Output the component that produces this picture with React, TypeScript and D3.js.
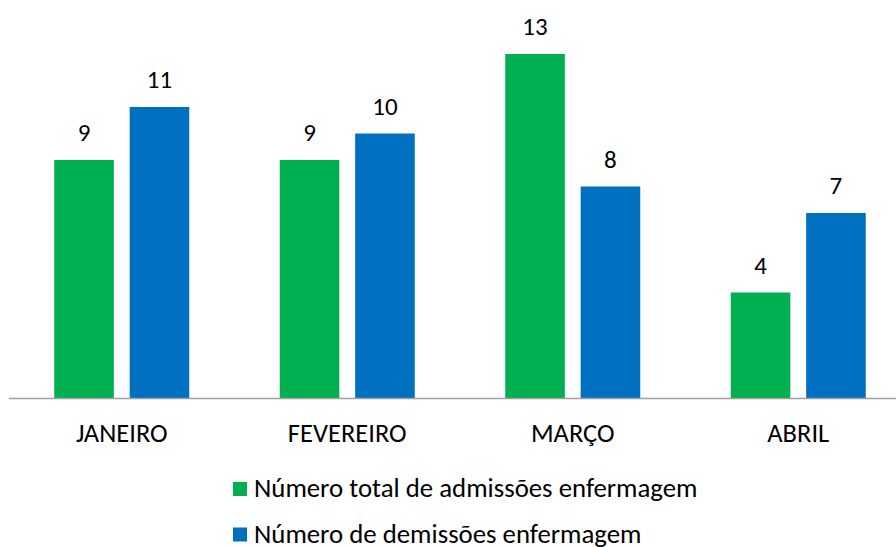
// @ts-nocheck
import * as d3 from "d3";
import React, { useRef, useEffect } from "react";

const months = ["JANEIRO", "FEVEREIRO", "MARÇO", "ABRIL"];
const admissoes = [9, 9, 13, 4];
const demissoes = [11, 10, 8, 7];
const seriesNames = ["Número total de admissões enfermagem", "Número de demissões enfermagem"];
const colors = ["#00B050", "#0070C0"];

export default function App() {
  const svgRef = useRef<SVGSVGElement | null>(null);

  useEffect(() => {
    const width = 896;
    const height = 547;
    const font = "Carlito, Calibri, Lato, sans-serif";

    const svg = d3.select(svgRef.current).attr("width", width).attr("height", height);
    svg.selectAll("*").remove();

    const x = d3.scaleBand().domain(months).range([9, 9 + 4 * 225.5]);
    const sub = d3.scaleBand().domain(["a", "d"]).range([-67.5, 67.5]).paddingInner(0.21).paddingOuter(0);
    const y = d3.scaleLinear().domain([0, 13]).range([398.5, 54]);

    const rows = months.map((m, i) => ({ m, vals: [admissoes[i], demissoes[i]] }));

    const g = svg.append("g");
    rows.forEach(r => {
      const cx = x(r.m)! + x.bandwidth() / 2;
      ["a", "d"].forEach((k, j) => {
        const v = r.vals[j];
        const bx = cx + sub(k)!;
        g.append("rect")
          .attr("x", bx)
          .attr("y", y(v))
          .attr("width", sub.bandwidth())
          .attr("height", y(0) - y(v))
          .attr("fill", colors[j]);
        g.append("text")
          .attr("x", bx + sub.bandwidth() / 2)
          .attr("y", y(v) - 19)
          .attr("text-anchor", "middle")
          .attr("font-family", font)
          .attr("font-size", 25)
          .attr("fill", "#000")
          .text(v);
      });
    });

    // category axis
    svg.append("line")
      .attr("x1", 9).attr("x2", width)
      .attr("y1", y(0)).attr("y2", y(0))
      .attr("stroke", "#A0A0A0").attr("stroke-width", 1.5);

    svg.append("g").selectAll("text").data(months).join("text")
      .attr("x", d => x(d)! + x.bandwidth() / 2)
      .attr("y", 442)
      .attr("text-anchor", "middle")
      .attr("font-family", font)
      .attr("font-size", 26.5)
      .attr("fill", "#000")
      .text(d => d);

    // legend
    const leg = svg.append("g").selectAll("g").data(seriesNames).join("g")
      .attr("transform", (d, i) => `translate(233,${482 + i * 45.5})`);
    leg.append("rect").attr("width", 14).attr("height", 14).attr("fill", (d, i) => colors[i]);
    leg.append("text")
      .attr("x", 21).attr("y", 15)
      .attr("font-family", font)
      .attr("font-size", 26.8)
      .attr("fill", "#000")
      .text(d => d);
  }, []);

  return <svg ref={svgRef} style={{ position: "absolute", left: 0, top: 0 }} />;
}
